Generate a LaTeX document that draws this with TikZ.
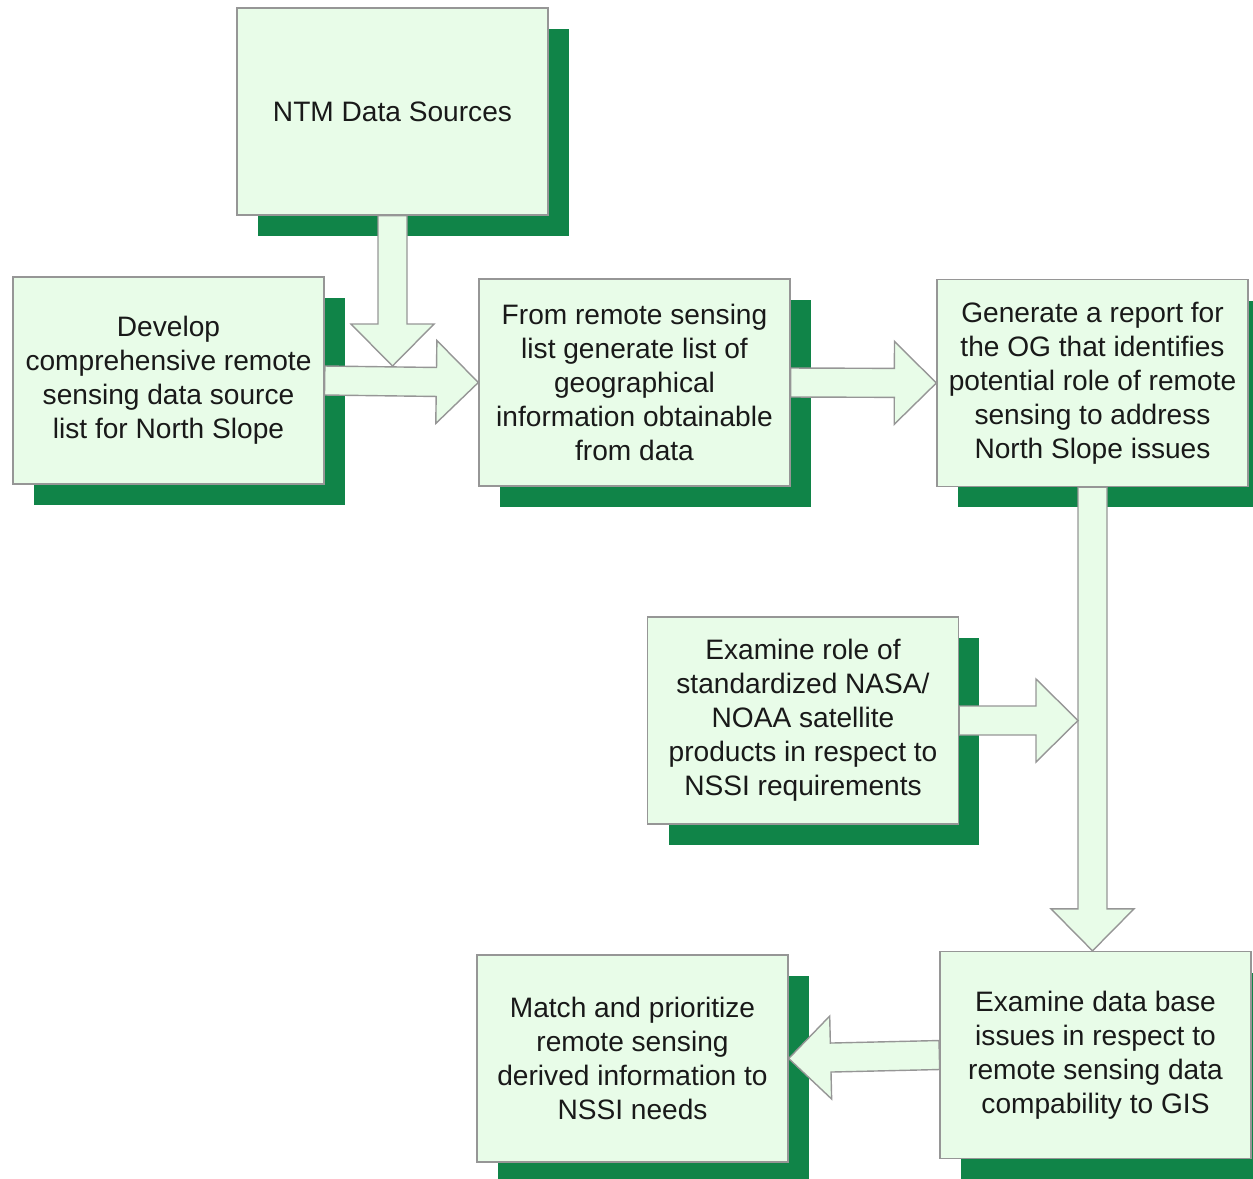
\documentclass[tikz,border=0pt]{standalone}
\usepackage{fontspec}
\setmainfont{Liberation Sans}
\usetikzlibrary{calc,shadows}

\definecolor{boxfill}{RGB}{232,252,232}
\definecolor{boxshadow}{RGB}{16,132,72}
\definecolor{boxline}{RGB}{150,150,150}

\tikzset{
  process/.style={draw=boxline, fill=boxfill, line width=0.8pt,
    minimum width=6.22cm, minimum height=4.14cm, align=center,
    text=black!90, font=\fontsize{16}{19.4}\selectfont,
    drop shadow={shadow xshift=0.42cm, shadow yshift=-0.42cm,
      fill=boxshadow, opacity=1}},
  fatarrow/.style={draw=boxline, fill=boxfill, line width=0.8pt, line join=miter}
}

% block arrow from #1 to the tip #2
\newcommand{\flowarrow}[2]{%
  \filldraw[fatarrow] let \p1=(#1), \p2=(#2),
    \n1={atan2(\y2-\y1,\x2-\x1)}, \n2={veclen(\x2-\x1,\y2-\y1)} in
    [shift={(\p1)}, rotate=\n1]
    (0pt,-0.29cm) -- ({\n2-0.84cm},-0.29cm) -- ({\n2-0.84cm},-0.83cm)
    -- (\n2,0pt) -- ({\n2-0.84cm},0.83cm) -- ({\n2-0.84cm},0.29cm)
    -- (0pt,0.29cm) -- cycle;
}

\begin{document}
\begin{tikzpicture}[x=0.02cm, y=-0.02cm]
  \useasboundingbox (0,0) rectangle (1253,1178);

  % boxes
  \node[process] (ntm) at (392.5,111.5) {NTM Data Sources};
  \node[process] (dev) at (168.5,380.5) {Develop\\comprehensive remote\\sensing data source\\list for North Slope};
  \node[process] (from) at (634.5,382.5) {From remote sensing\\list generate list of\\geographical\\information obtainable\\from data};
  \node[process] (report) at (1092.5,383) {Generate a report for\\the OG that identifies\\potential role of remote\\sensing to address\\North Slope issues};
  \node[process] (role) at (803,720.5) {Examine role of\\standardized NASA/\\NOAA satellite\\products in respect to\\NSSI requirements};
  \node[process] (dbase) at (1095.5,1055) {Examine data base\\issues in respect to\\remote sensing data\\compability to GIS};
  \node[process] (match) at (632.5,1058.5) {Match and prioritize\\remote sensing\\derived information to\\NSSI needs};

  % arrow ends
  \coordinate (merge) at ($(ntm.south |- dev.east)+(0,0.29cm)$);
  \coordinate (join) at ($(report.south |- role.east)+(-0.29cm,0)$);

  % arrows
  \flowarrow{ntm.south}{merge}
  \flowarrow{dev.east}{from.west}
  \flowarrow{from.east}{report.west}
  \flowarrow{report.south}{report.south |- dbase.north}
  \flowarrow{role.east}{join}
  \flowarrow{dbase.west}{match.east}
\end{tikzpicture}
\end{document}
